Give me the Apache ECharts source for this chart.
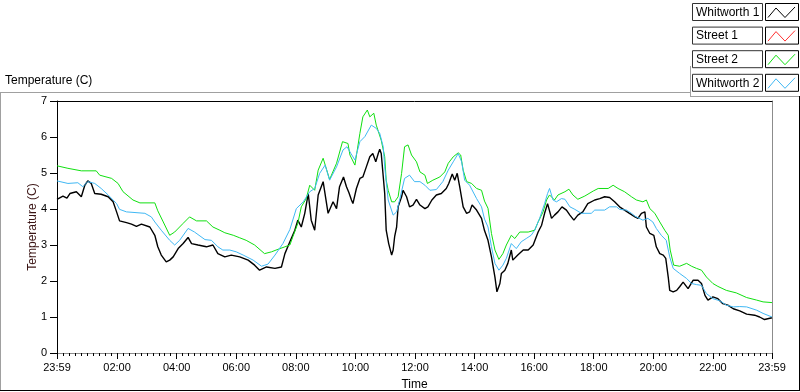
<!DOCTYPE html>
<html><head><meta charset="utf-8">
<script src="https://cdn.jsdelivr.net/npm/echarts@6/dist/echarts.min.js"></script>
<style>html,body{margin:0;padding:0;background:#fff}#c{width:800px;height:392px}</style>
</head><body><div id="c"></div><script>
// time = minutes after the 23:59 start of the window
const seriesNames = ['Whitworth 1', 'Street 1', 'Street 2', 'Whitworth 2'];
const seriesColors = ['#000000', '#ff3030', '#10e010', '#40b8f4'];

const whitworth1 = [[0,4.27],[12,4.36],[20,4.30],[26,4.43],[39,4.48],[49,4.34],[56,4.66],[62,4.78],[69,4.71],[76,4.43],[89,4.41],[103,4.34],[113,4.20],[120,3.92],[126,3.67],[140,3.62],[150,3.58],[160,3.52],[170,3.58],[187,3.50],[197,3.27],[203,2.95],[210,2.72],[220,2.53],[227,2.58],[234,2.67],[244,2.90],[254,3.04],[264,3.21],[271,3.04],[284,3.00],[301,2.95],[314,3.00],[324,2.76],[338,2.67],[351,2.72],[368,2.67],[385,2.58],[398,2.44],[408,2.30],[422,2.39],[439,2.35],[452,2.39],[459,2.76],[469,3.09],[479,3.41],[485,3.69],[492,3.50],[499,3.88],[506,4.43],[512,3.69],[519,3.41],[526,4.39],[536,4.76],[546,3.88],[556,4.20],[563,4.01],[569,4.62],[577,4.89],[583,4.62],[588,4.45],[593,4.25],[596,4.15],[603,4.57],[610,4.85],[616,4.89],[623,5.17],[630,5.45],[636,5.54],[642,5.31],[647,5.54],[650,5.66],[653,5.54],[660,4.43],[663,3.41],[668,3.04],[674,2.72],[677,2.86],[680,3.23],[684,3.50],[687,4.06],[694,4.34],[697,4.52],[704,4.34],[710,4.06],[717,4.11],[724,4.27],[731,4.11],[741,4.01],[747,4.06],[755,4.25],[764,4.39],[774,4.43],[784,4.57],[789,4.71],[796,4.97],[801,4.80],[806,4.99],[811,4.62],[818,4.06],[825,3.88],[831,3.92],[836,4.11],[845,3.97],[855,3.74],[861,3.40],[868,3.13],[875,2.67],[882,2.11],[886,1.70],[892,1.93],[895,2.21],[902,2.30],[908,2.49],[915,2.86],[918,2.58],[928,2.72],[939,2.86],[949,2.86],[959,3.00],[969,3.36],[976,3.55],[982,3.88],[988,4.15],[992,4.15],[996,3.74],[1002,3.83],[1009,3.92],[1017,4.06],[1026,3.97],[1033,3.83],[1041,3.69],[1049,3.83],[1059,3.92],[1069,4.15],[1083,4.25],[1093,4.29],[1103,4.34],[1113,4.32],[1123,4.20],[1133,4.06],[1143,3.97],[1153,3.88],[1164,3.78],[1170,3.74],[1177,3.88],[1184,3.92],[1187,3.50],[1194,3.32],[1202,3.27],[1207,2.95],[1214,2.76],[1221,2.72],[1226,2.63],[1231,2.11],[1234,1.74],[1241,1.70],[1248,1.74],[1254,1.84],[1261,1.97],[1271,1.79],[1281,2.02],[1291,2.02],[1298,1.93],[1305,1.60],[1311,1.47],[1321,1.56],[1331,1.51],[1341,1.37],[1351,1.33],[1362,1.23],[1375,1.17],[1389,1.08],[1405,1.05],[1415,1.00],[1425,0.93],[1440,0.98]];

const street1 = [];

const street2 = [[0,5.20],[22,5.13],[49,5.06],[79,5.06],[86,4.94],[110,4.85],[123,4.71],[133,4.48],[153,4.25],[167,4.17],[197,4.17],[203,3.95],[214,3.64],[227,3.27],[237,3.36],[254,3.60],[267,3.78],[281,3.67],[301,3.67],[314,3.50],[328,3.41],[338,3.34],[355,3.27],[368,3.20],[381,3.13],[398,3.00],[418,2.76],[432,2.81],[445,2.88],[459,2.95],[469,3.00],[475,3.23],[485,3.60],[492,4.06],[502,4.29],[509,4.66],[519,4.52],[526,5.08],[536,5.41],[549,4.82],[563,5.27],[575,5.87],[586,5.82],[590,5.50],[600,5.22],[610,6.10],[616,6.56],[625,6.75],[630,6.56],[638,6.66],[643,6.33],[653,5.91],[660,5.45],[663,4.80],[667,4.52],[674,4.20],[680,4.20],[687,4.34],[694,4.99],[700,5.73],[707,5.78],[714,5.50],[724,5.31],[731,5.03],[741,4.94],[746,4.71],[757,4.80],[771,4.89],[781,5.03],[788,5.27],[798,5.45],[808,5.56],[813,5.50],[818,5.08],[825,4.76],[835,4.71],[845,4.57],[855,4.52],[861,4.22],[868,4.02],[875,3.32],[882,2.86],[890,2.60],[898,2.76],[905,3.00],[915,3.27],[922,3.18],[932,3.36],[949,3.36],[962,3.41],[969,3.64],[979,3.92],[986,4.25],[992,4.39],[1002,4.25],[1009,4.39],[1023,4.48],[1031,4.55],[1039,4.39],[1049,4.27],[1063,4.36],[1080,4.50],[1090,4.57],[1110,4.57],[1120,4.66],[1130,4.57],[1143,4.48],[1157,4.34],[1167,4.25],[1180,4.20],[1187,4.25],[1194,4.01],[1204,3.88],[1214,3.64],[1224,3.41],[1231,3.27],[1235,2.86],[1242,2.44],[1254,2.41],[1268,2.49],[1278,2.41],[1288,2.35],[1298,2.30],[1308,2.11],[1321,1.93],[1331,1.85],[1348,1.74],[1368,1.67],[1389,1.54],[1409,1.47],[1422,1.42],[1440,1.40]];

const whitworth2 = [[0,4.78],[22,4.71],[42,4.73],[52,4.62],[62,4.76],[76,4.71],[89,4.57],[103,4.39],[120,4.15],[126,3.99],[140,3.92],[177,3.88],[190,3.78],[197,3.64],[210,3.41],[227,3.13],[237,3.00],[247,3.13],[264,3.46],[277,3.36],[298,3.15],[311,3.13],[324,2.95],[334,2.86],[348,2.86],[361,2.81],[375,2.72],[395,2.58],[412,2.41],[425,2.47],[439,2.72],[455,3.04],[469,3.43],[482,4.01],[496,4.20],[509,4.48],[519,4.57],[529,4.99],[540,5.22],[549,4.80],[563,5.17],[576,5.64],[584,5.73],[592,5.54],[600,5.36],[610,5.87],[620,6.01],[633,6.33],[643,6.24],[650,6.10],[657,5.73],[660,5.17],[667,4.25],[677,3.83],[684,3.92],[690,4.25],[700,4.85],[710,4.94],[720,4.76],[731,4.76],[741,4.66],[751,4.52],[764,4.54],[777,4.76],[788,5.08],[798,5.31],[808,5.54],[815,5.31],[821,4.80],[831,4.66],[845,4.29],[855,4.06],[861,3.72],[868,3.50],[875,2.95],[882,2.49],[890,2.30],[898,2.44],[905,2.63],[915,3.04],[925,2.90],[935,3.09],[945,3.18],[955,3.27],[962,3.41],[972,3.74],[982,4.15],[988,4.43],[992,4.57],[999,4.25],[1006,4.20],[1016,4.29],[1023,4.27],[1033,4.06],[1043,3.99],[1056,3.88],[1076,3.88],[1083,3.97],[1103,3.97],[1113,4.06],[1127,4.06],[1133,3.99],[1147,3.97],[1157,3.88],[1164,3.80],[1167,3.78],[1180,3.69],[1190,3.74],[1200,3.64],[1207,3.46],[1217,3.27],[1227,3.13],[1234,2.67],[1241,2.35],[1254,2.21],[1268,2.07],[1278,1.93],[1288,1.90],[1298,1.88],[1308,1.65],[1321,1.51],[1335,1.45],[1348,1.33],[1362,1.28],[1375,1.29],[1389,1.28],[1409,1.19],[1422,1.10],[1440,1.00]];

const seriesData = [whitworth1, street1, street2, whitworth2];
// major tick positions (minutes after start) and their labels
const xMajorTicks = [0,121,241,361,481,601,721,841,961,1081,1201,1321,1440];
const yTicks = [0,1,2,3,4,5,6,7];
const chartTitle = 'Temperature (C)';
const xName = 'Time';
const yName = 'Temperature (C)';

const FONT = '"Liberation Sans", Arial, sans-serif';
function clockLabel(v) {
  const m = (((v - 1) % 1440) + 1440) % 1440;
  const hh = Math.floor(m / 60), mm = m % 60;
  return String(hh).padStart(2, '0') + ':' + String(mm).padStart(2, '0');
}
const xMinorTicks = [];
for (let k = 1; k < 120; k++) { if (k % 10 !== 0) xMinorTicks.push(1 + 12 * k); }

const chart = echarts.init(document.getElementById('c'), null, {renderer: 'canvas'});

const graphics = [
  {type: 'text', left: 5, top: 75, style: {text: chartTitle, font: '12px ' + FONT, fill: '#000'}},
  {type: 'line', shape: {x1: 0, y1: 92.5, x2: 690, y2: 92.5}, style: {stroke: '#a0a0a0', lineWidth: 1}},
  {type: 'line', shape: {x1: 690.5, y1: 66, x2: 690.5, y2: 97}, style: {stroke: '#a0a0a0', lineWidth: 1}},
  {type: 'line', shape: {x1: 690, y1: 96.5, x2: 800, y2: 96.5}, style: {stroke: '#a0a0a0', lineWidth: 1}},
  {type: 'line', shape: {x1: 0.5, y1: 92, x2: 0.5, y2: 391}, style: {stroke: '#a0a0a0', lineWidth: 1}},
  {type: 'line', shape: {x1: 0, y1: 390.5, x2: 800, y2: 390.5}, style: {stroke: '#000', lineWidth: 1}},
  {type: 'line', shape: {x1: 799.5, y1: 96, x2: 799.5, y2: 391}, style: {stroke: '#000', lineWidth: 1}}
];
seriesNames.forEach((name, i) => {
  const top = 3 + 23.6 * i;
  graphics.push({type: 'rect', shape: {x: 692.5, y: top + 0.5, width: 70, height: 17}, style: {fill: '#fff', stroke: '#333', lineWidth: 1}});
  graphics.push({type: 'text', style: {text: name, x: 696, y: top + 9.5, verticalAlign: 'middle', font: '12px ' + FONT, fill: '#000'}});
  graphics.push({type: 'rect', shape: {x: 765.5, y: top + 0.5, width: 33, height: 17}, style: {fill: '#fff', stroke: '#000', lineWidth: 1}});
  graphics.push({type: 'polyline', shape: {points: [[768, top + 14.5], [776, top + 5], [785, top + 14.5], [795, top + 4]]}, style: {stroke: seriesColors[i], fill: 'none', lineWidth: 1}});
});

chart.setOption({
  animation: false,
  backgroundColor: '#fff',
  grid: {left: 57, right: 28, top: 101, bottom: 39, containLabel: false, outerBoundsMode: 'none'},
  legend: {show: false},
  graphic: graphics,
  xAxis: [
    {
      type: 'value', min: 0, max: 1440, position: 'bottom',
      axisLine: {show: true, onZero: false, lineStyle: {color: '#8c8c8c', width: 1}},
      axisTick: {show: true, inside: false, customValues: xMajorTicks, length: 6, lineStyle: {color: '#000', width: 1}},
      axisLabel: {show: true, customValues: xMajorTicks, formatter: clockLabel, fontFamily: FONT, fontSize: 11, color: '#000', margin: 9, showMinLabel: true, showMaxLabel: true},
      splitLine: {show: false},
      name: xName, nameLocation: 'middle', nameGap: 26, nameMoveOverlap: false,
      nameTextStyle: {fontFamily: FONT, fontSize: 12, color: '#000'}
    },
    {
      type: 'value', min: 0, max: 1440, position: 'bottom',
      axisLine: {show: false, onZero: false},
      axisTick: {show: true, inside: false, customValues: xMinorTicks, length: 3, lineStyle: {color: '#000', width: 1}},
      axisLabel: {show: false},
      splitLine: {show: false}
    },
    {
      type: 'value', min: 0, max: 1440, position: 'top',
      axisLine: {show: true, onZero: false, lineStyle: {color: '#000', width: 1}},
      axisTick: {show: false}, axisLabel: {show: false}, splitLine: {show: false}
    }
  ],
  yAxis: [
    {
      type: 'value', min: 0, max: 7, interval: 1, position: 'left',
      axisLine: {show: true, onZero: false, lineStyle: {color: '#000', width: 1}},
      axisTick: {show: true, inside: false, length: 7, lineStyle: {color: '#000', width: 1}},
      axisLabel: {fontFamily: FONT, fontSize: 11, color: '#000', margin: 10, formatter: v => String(v)},
      splitLine: {show: false},
      name: yName, nameLocation: 'middle', nameGap: 18, nameMoveOverlap: false,
      nameTextStyle: {fontFamily: FONT, fontSize: 12, color: '#3a1414'}
    },
    {
      type: 'value', min: 0, max: 7, position: 'right',
      axisLine: {show: true, onZero: false, lineStyle: {color: '#8c8c8c', width: 1}},
      axisTick: {show: false}, axisLabel: {show: false}, splitLine: {show: false}
    }
  ],
  series: seriesNames.map((name, i) => ({
    name: name,
    type: 'line',
    xAxisIndex: 0, yAxisIndex: 0,
    data: seriesData[i],
    showSymbol: false,
    symbol: 'none',
    lineStyle: {color: seriesColors[i], width: i === 0 ? 1.4 : 1},
    itemStyle: {color: seriesColors[i]},
    silent: true
  }))
});
</script></body></html>
